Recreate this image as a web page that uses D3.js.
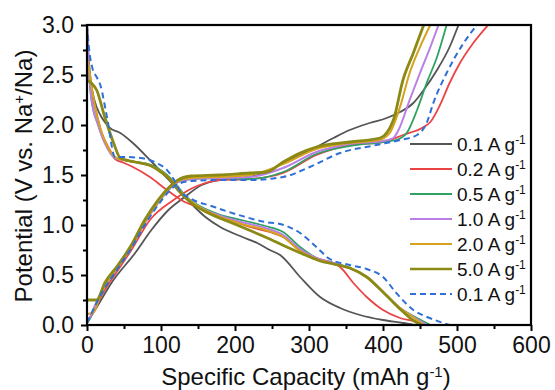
<!DOCTYPE html>
<html>
<head>
<meta charset="utf-8">
<script src="https://cdn.jsdelivr.net/npm/d3@7"></script>
<style>
  body { margin: 0; background: #fff; }
  text { font-family: "Liberation Sans", Arial, sans-serif; fill: #111; }
</style>
</head>
<body>
<script>
// current densities shown in the legend (A g-1)
var rateLabels = ["0.1", "0.2", "0.5", "1.0", "2.0", "5.0", "0.1"];

// tick values
var xTickValues = [0, 100, 200, 300, 400, 500, 600];
var yTickValues = [0, 0.5, 1.0, 1.5, 2.0, 2.5, 3.0];

// discharge curves [capacity mAh/g, potential V]
var dis01 = [[0,3.0],[2,2.7],[5,2.45],[10,2.25],[18,2.1],[25,2.02],[31,1.97],[45,1.92],[62,1.82],[85,1.65],[108,1.47],[126,1.33],[140,1.22],[160,1.08],[180,0.98],[210,0.88],[230,0.82],[247,0.75],[261,0.70],[288,0.48],[315,0.28],[342,0.17],[369,0.10],[400,0.05],[427,0.02],[442,0.0]];
var dis02 = [[0,3.0],[2,2.6],[5,2.35],[10,2.2],[20,1.92],[31,1.75],[38,1.66],[50,1.62],[62,1.58],[85,1.48],[108,1.35],[132,1.23],[150,1.18],[178,1.10],[220,0.98],[247,0.93],[265,0.88],[288,0.75],[310,0.67],[333,0.62],[342,0.58],[360,0.42],[378,0.28],[400,0.15],[423,0.07],[446,0.03],[455,0.0]];
var dis05 = [[0,3.0],[2,2.62],[6,2.25],[15,2.0],[28,1.77],[38,1.67],[50,1.65],[65,1.63],[87,1.60],[105,1.52],[119,1.42],[132,1.30],[150,1.20],[177,1.11],[214,1.04],[241,0.99],[265,0.93],[288,0.78],[310,0.67],[333,0.62],[355,0.57],[378,0.48],[400,0.33],[423,0.17],[446,0.07],[464,0.0]];
var dis10 = [[0,3.0],[2,2.65],[6,2.27],[15,2.0],[28,1.76],[38,1.67],[50,1.65],[65,1.63],[87,1.59],[105,1.51],[119,1.41],[132,1.29],[150,1.19],[177,1.10],[214,1.02],[241,0.97],[265,0.90],[288,0.76],[310,0.67],[333,0.62],[355,0.57],[378,0.48],[400,0.33],[423,0.17],[446,0.06],[460,0.0]];
var dis20 = [[0,2.68],[3,2.55],[8,2.3],[15,2.05],[28,1.78],[40,1.67],[50,1.65],[65,1.63],[87,1.59],[105,1.51],[119,1.41],[132,1.29],[150,1.19],[177,1.09],[214,1.0],[241,0.95],[265,0.88],[288,0.74],[310,0.66],[333,0.61],[355,0.57],[378,0.48],[400,0.33],[423,0.17],[446,0.05],[455,0.0]];
var dis50 = [[0,2.45],[6,2.42],[13,2.35],[24,2.08],[36,1.82],[45,1.67],[65,1.63],[87,1.59],[100,1.53],[109,1.48],[123,1.35],[141,1.22],[164,1.12],[196,1.02],[222,0.94],[247,0.86],[270,0.78],[295,0.70],[315,0.64],[333,0.61],[355,0.57],[378,0.48],[400,0.33],[423,0.16],[440,0.05],[452,0.0]];
var dis01b = [[0,3.0],[3,2.75],[8,2.55],[13,2.48],[18,2.4],[27,2.08],[38,1.68],[51,1.68],[72,1.67],[94,1.62],[108,1.55],[117,1.46],[125,1.35],[141,1.26],[168,1.19],[214,1.08],[241,1.03],[261,1.01],[288,0.92],[310,0.78],[328,0.66],[355,0.60],[378,0.56],[400,0.48],[418,0.32],[441,0.15],[463,0.07],[490,0.0]];

// charge curves [capacity mAh/g, potential V]
var chg01 = [[0,0.02],[15,0.2],[33,0.42],[65,0.72],[87,0.95],[110,1.15],[132,1.28],[155,1.40],[177,1.45],[209,1.47],[230,1.50],[243,1.53],[265,1.62],[288,1.70],[310,1.78],[333,1.87],[355,1.95],[382,2.02],[405,2.07],[423,2.13],[441,2.22],[455,2.35],[473,2.55],[490,2.78],[502,3.0]];
var chg02 = [[0,0.03],[10,0.15],[20,0.3],[30,0.42],[42,0.55],[60,0.75],[85,1.05],[117,1.25],[140,1.36],[160,1.42],[180,1.45],[220,1.46],[265,1.52],[310,1.70],[355,1.80],[400,1.83],[427,1.90],[455,1.98],[464,2.03],[477,2.2],[490,2.42],[504,2.62],[522,2.82],[542,3.0]];
var chg05 = [[0,0.02],[5,0.08],[10,0.18],[20,0.33],[30,0.45],[42,0.58],[60,0.78],[78,1.02],[96,1.22],[110,1.35],[123,1.43],[141,1.46],[177,1.47],[220,1.46],[265,1.53],[310,1.71],[355,1.79],[400,1.83],[418,1.85],[432,1.92],[446,2.15],[459,2.42],[473,2.68],[486,3.0]];
var chg10 = [[0,0.04],[5,0.09],[10,0.18],[20,0.33],[30,0.45],[42,0.58],[60,0.78],[78,1.02],[96,1.22],[110,1.35],[123,1.43],[141,1.46],[177,1.47],[220,1.48],[265,1.57],[310,1.73],[355,1.81],[400,1.84],[414,1.87],[421,1.95],[436,2.25],[450,2.52],[464,2.78],[475,3.0]];
var chg20 = [[0,0.11],[8,0.12],[20,0.33],[30,0.46],[42,0.59],[60,0.79],[78,1.03],[96,1.23],[110,1.36],[123,1.44],[141,1.47],[177,1.48],[220,1.50],[265,1.61],[310,1.76],[355,1.82],[395,1.85],[409,1.92],[423,2.18],[436,2.52],[450,2.78],[464,3.0]];
var chg50 = [[0,0.25],[13,0.25],[24,0.42],[42,0.6],[60,0.8],[78,1.05],[96,1.25],[110,1.37],[123,1.45],[141,1.49],[177,1.50],[220,1.52],[243,1.53],[265,1.63],[288,1.72],[310,1.78],[355,1.83],[396,1.87],[414,2.05],[427,2.45],[441,2.72],[455,3.0]];
var chg01b = [[0,0.02],[20,0.32],[42,0.57],[60,0.77],[78,1.0],[96,1.2],[110,1.33],[123,1.41],[141,1.44],[177,1.45],[220,1.45],[265,1.48],[301,1.58],[342,1.72],[391,1.80],[423,1.85],[446,1.90],[459,2.02],[468,2.22],[486,2.52],[509,2.82],[527,3.0]];

var dischargeSets = [dis01, dis02, dis05, dis10, dis20, dis50, dis01b];
var chargeSets = [chg01, chg02, chg05, chg10, chg20, chg50, chg01b];

// line styles per series
var colors = ["#555555", "#ec4446", "#2fa263", "#b97fe6", "#d6a21e", "#8a8a14", "#2f6fd8"];
var widths = [1.8, 1.8, 1.8, 2, 2, 2.8, 2];
var dashes = [null, null, null, null, null, null, "6,4"];

var width = 555, height = 390;
var margin = {left: 87, right: 24, top: 25, bottom: 65};
var plotW = width - margin.left - margin.right,
    plotH = height - margin.top - margin.bottom;

var svg = d3.select('body')
    .append('svg')
    .attr('width', width)
    .attr('height', height);

var x = d3.scaleLinear().domain([0, 600]).range([margin.left, margin.left + plotW]);
var y = d3.scaleLinear().domain([0, 3.0]).range([margin.top + plotH, margin.top]);

var line = d3.line()
    .x(function(d) { return x(d[0]); })
    .y(function(d) { return y(d[1]); })
    .curve(d3.curveMonotoneX);

var plot = svg.append('g');

// draw curves: discharge and charge for each rate
rateLabels.forEach(function(lbl, i) {
  [dischargeSets[i], chargeSets[i]].forEach(function(set) {
    plot.append('path')
        .datum(set)
        .attr('d', line)
        .attr('fill', 'none')
        .attr('stroke', colors[i])
        .attr('stroke-width', widths[i])
        .attr('stroke-dasharray', dashes[i])
        .attr('stroke-linejoin', 'round');
  });
});

// axes
var xAxis = d3.axisBottom(x).tickValues(xTickValues).tickSize(6).tickPadding(6).tickFormat(d3.format('d'));
var xMinor = d3.axisBottom(x).tickValues([50, 150, 250, 350, 450, 550]).tickSize(4).tickFormat('');
var yAxis = d3.axisLeft(y).tickValues(yTickValues).tickSize(6).tickPadding(7).tickFormat(d3.format('.1f'));
var yMinor = d3.axisLeft(y).tickValues([0.25, 0.75, 1.25, 1.75, 2.25, 2.75]).tickSize(4).tickFormat('');

function styleAxis(g) {
  g.select('.domain').remove();
  g.selectAll('line').attr('stroke', '#000').attr('stroke-width', 2);
  g.selectAll('text').style('font-family', '"Liberation Sans", Arial, sans-serif')
    .style('font-size', '23px').attr('fill', '#111');
}

svg.append('g').attr('transform', 'translate(0,' + (margin.top + plotH) + ')').call(xAxis).call(styleAxis);
svg.append('g').attr('transform', 'translate(0,' + (margin.top + plotH) + ')').call(xMinor).call(styleAxis);
svg.append('g').attr('transform', 'translate(' + margin.left + ',0)').call(yAxis).call(styleAxis);
svg.append('g').attr('transform', 'translate(' + margin.left + ',0)').call(yMinor).call(styleAxis);

// frame
svg.append('rect')
    .attr('x', margin.left)
    .attr('y', margin.top)
    .attr('width', plotW)
    .attr('height', plotH)
    .attr('fill', 'none')
    .attr('stroke', '#000')
    .attr('stroke-width', 2.2);

// axis titles
var xt = svg.append('text')
    .attr('x', 306)
    .attr('y', 385)
    .attr('text-anchor', 'middle')
    .style('font-size', '24px');
xt.append('tspan').text('Specific Capacity (mAh g');
xt.append('tspan').attr('baseline-shift', 'super').style('font-size', '15px').text('-1');
xt.append('tspan').text(')');

var yt = svg.append('text')
    .attr('transform', 'translate(32,176) rotate(-90)')
    .attr('text-anchor', 'middle')
    .style('font-size', '24px');
yt.append('tspan').text('Potential (V vs. Na');
yt.append('tspan').attr('baseline-shift', 'super').style('font-size', '15px').text('+');
yt.append('tspan').text('/Na)');

// legend
var legend = svg.append('g');
rateLabels.forEach(function(lbl, i) {
  var ly = 144 + i * 25;
  legend.append('line')
      .attr('x1', 410).attr('x2', 452)
      .attr('y1', ly).attr('y2', ly)
      .attr('stroke', colors[i])
      .attr('stroke-width', i === 5 ? 2.4 : 2)
      .attr('stroke-dasharray', dashes[i]);
  var t = legend.append('text')
      .attr('x', 457)
      .attr('y', ly + 7)
      .style('font-size', '19px');
  t.append('tspan').text(lbl + ' A g');
  t.append('tspan').attr('baseline-shift', 'super').style('font-size', '12px').text('-1');
});
</script>
</body>
</html>
